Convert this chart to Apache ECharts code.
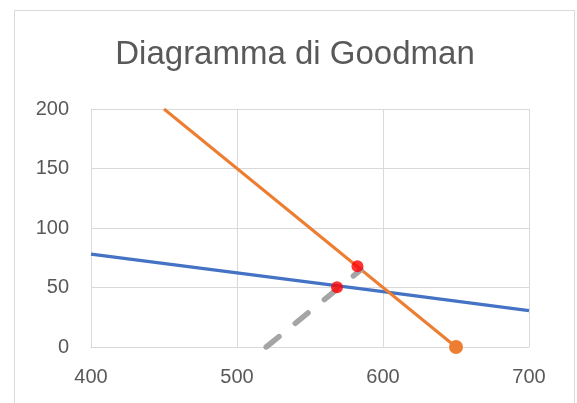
<!DOCTYPE html>
<html>
<head>
<meta charset="utf-8">
<script src="https://cdn.jsdelivr.net/npm/echarts@6/dist/echarts.min.js"></script>
<style>
html,body{margin:0;padding:0;background:#fff;}
#c{width:577px;height:403px;}
</style>
</head>
<body>
<div id="c"></div>
<script>
const titleText = 'Diagramma di Goodman';
const xTicks = [400, 500, 600, 700];
const yTicks = [0, 50, 100, 150, 200];
// Goodman line (blue)
const goodmanX = [400, 500, 600, 700];
const goodmanY = [78, 62.3, 46.5, 30.5];
// Yield line (orange)
const yieldX = [450, 650];
const yieldY = [200, 0];
// Load line (gray dashed)
const loadX = [520, 585];
const loadY = [0, 65];
// Intersection points (red)
const pointX = [582.5, 568.5];
const pointY = [67.8, 50.2];

const pairs = (xs, ys) => xs.map((x, i) => [x, ys[i]]);
const font = '"Liberation Sans", Arial, sans-serif';
const gridCol = '#d9d9d9';
const txtCol = '#595959';

const chart = echarts.init(document.getElementById('c'), null, {renderer: 'canvas'});
chart.setOption({
  animation: false,
  backgroundColor: '#ffffff',
  graphic: [
    {type: 'rect', shape: {x: 14.5, y: 10.5, width: 560, height: 420},
     style: {fill: 'none', stroke: gridCol, lineWidth: 1}, silent: true, z: -1},
    {type: 'text', x: 295, y: 55,
     style: {text: titleText, font: '33px ' + font, fill: txtCol, align: 'center', verticalAlign: 'middle'}}
  ],
  grid: {left: 91, right: 48, top: 109, bottom: 56, containLabel: false},
  xAxis: {
    type: 'value', min: xTicks[0], max: xTicks[xTicks.length - 1], interval: 100,
    axisLine: {show: true, lineStyle: {color: gridCol, width: 1}},
    axisTick: {show: false},
    splitLine: {show: true, lineStyle: {color: gridCol, width: 1}},
    axisLabel: {color: txtCol, fontSize: 20, fontFamily: font, margin: 20}
  },
  yAxis: {
    type: 'value', min: yTicks[0], max: yTicks[yTicks.length - 1], interval: 50,
    axisLine: {show: true, lineStyle: {color: gridCol, width: 1}},
    axisTick: {show: false},
    splitLine: {show: true, lineStyle: {color: gridCol, width: 1}},
    axisLabel: {color: txtCol, fontSize: 20, fontFamily: font, margin: 22}
  },
  series: [
    {type: 'line', data: pairs(goodmanX, goodmanY), showSymbol: false, smooth: false,
     lineStyle: {color: '#4472C4', width: 3.25}, z: 2},
    {type: 'line', data: pairs(yieldX, yieldY).map((p, i) => i === yieldX.length - 1 ? {value: p, symbol: 'circle', symbolSize: 14} : {value: p, symbol: 'none'}),
     lineStyle: {color: '#ED7D31', width: 3}, itemStyle: {color: '#ED7D31'}, z: 3, clip: false},
    {type: 'line', data: pairs(loadX, loadY), showSymbol: false,
     lineStyle: {color: '#A5A5A5', width: 5.5, type: [16.5, 21], cap: 'round'}, z: 4},
    {type: 'scatter', data: pairs(pointX, pointY), symbol: 'circle', symbolSize: 12,
     itemStyle: {color: '#FF0000'}, z: 5}
  ]
});
</script>
</body>
</html>
